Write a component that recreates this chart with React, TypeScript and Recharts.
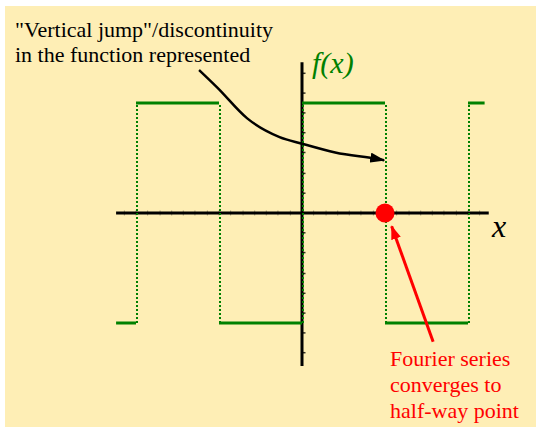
import React from "react";
import {
  ComposedChart,
  XAxis,
  YAxis,
  Line,
  Scatter,
  ReferenceLine,
  ReferenceDot,
} from "recharts";

// square wave, one horizontal piece per entry
const pieceStart = [-2.24, -2, -1, 0, 1, 2];
const pieceEnd = [-2, -1, 0, 1, 2, 2.2];
const pieceLevel = [-1, 1, -1, 1, -1, 1];

// where the function jumps (drawn dotted)
const jumpX = [-2, -1, 0, 1, 2];

// small tick marks on the two axes
const xTicks = [
  -2.14, -2, -1.86, -1.71, -1.57, -1.43, -1.29, -1.14, -1, -0.86, -0.71, -0.57,
  -0.43, -0.29, -0.14, 0.14, 0.29, 0.43, 0.57, 0.71, 0.86, 1, 1.14, 1.29, 1.43,
  1.57, 1.71, 1.86, 2, 2.14,
];
const yTicks = [
  1.27, 1.09, 0.91, 0.73, 0.55, 0.36, 0.18, -0.18, -0.36, -0.55, -0.73, -0.91,
  -1.09, -1.27,
];

// axis extents
const xAxisEnds = [-2.24, 2.25];
const yAxisEnds = [-1.39, 1.37];

// the point the series converges to
const halfWayX = 1;
const halfWayY = 0;

// black curved arrow from the caption to the jump
const noteCurveX = [-1.24, -1.02, -0.66, -0.27, 0, 0.4, 0.92, 0.99];
const noteCurveY = [1.3, 1.14, 0.86, 0.69, 0.63, 0.55, 0.49, 0.48];

// red arrow from the red text to the dot
const pointerX = [1.58, 1.08];
const pointerY = [-1.17, -0.12];

const captionLines = ['"Vertical jump"/discontinuity', "in the function represented"];
const noteLines = ["Fourier series", "converges to", "half-way point"];

const GREEN = "#008000";
const RED = "#ff0000";
const SERIF = "Liberation Serif";

const waveData = pieceStart.flatMap((s, i) => [
  { x: s, y: pieceLevel[i] },
  { x: pieceEnd[i], y: pieceLevel[i] },
  { x: pieceEnd[i], y: null },
]);
const curveData = noteCurveX.map((x, i) => ({ x, y: noteCurveY[i] }));
const pointerData = pointerX.map((x, i) => ({ x, y: pointerY[i] }));
const xTickData = xTicks.map((x) => ({ x, y: 0 }));
const yTickData = yTicks.map((y) => ({ x: 0, y }));

const XTick = (props: any) => (
  <line x1={props.cx} x2={props.cx} y1={props.cy - 2.5} y2={props.cy + 2.5} stroke="#000" strokeOpacity={0.35} strokeWidth={1} />
);
const YTick = (props: any) => (
  <line x1={props.cx + 1} x2={props.cx + 3.5} y1={props.cy} y2={props.cy} stroke="#000" strokeOpacity={0.8} strokeWidth={1.5} />
);

const label = (left: number, top: number, size: number, lh: number, color: string, italic = false): React.CSSProperties => ({
  position: "absolute",
  left,
  top,
  fontFamily: SERIF,
  fontSize: size,
  lineHeight: `${lh}px`,
  color,
  fontStyle: italic ? "italic" : "normal",
  whiteSpace: "pre",
  pointerEvents: "none",
});

export default function App() {
  return (
    <div style={{ position: "absolute", left: 0, top: 0, width: 536, height: 427, background: "#fff", fontFamily: SERIF }}>
      <div style={{ position: "absolute", left: 5, top: 6, width: 531, height: 421, background: "#feeeb5" }} />
      <div style={{ position: "absolute", left: 0, top: 0 }}>
        <ComposedChart width={536} height={427} margin={{ top: 0, right: 0, bottom: 0, left: 0 }}>
          <defs>
            <marker id="headBlack" markerWidth={15} markerHeight={10} refX={14} refY={5} orient="auto" markerUnits="userSpaceOnUse">
              <path d="M0,0 L15,5 L0,10 z" fill="#000" />
            </marker>
            <marker id="headRed" markerWidth={14} markerHeight={10} refX={13} refY={5} orient="auto" markerUnits="userSpaceOnUse">
              <path d="M0,0 L14,5 L0,10 z" fill={RED} />
            </marker>
          </defs>
          <XAxis type="number" dataKey="x" domain={[-3.6386, 2.8193]} allowDataOverflow hide />
          <YAxis type="number" dataKey="y" domain={[-1.9455, 1.9364]} allowDataOverflow hide />

          <ReferenceLine segment={[{ x: xAxisEnds[0], y: 0 }, { x: xAxisEnds[1], y: 0 }]} stroke="#000" strokeWidth={3} />
          <ReferenceLine segment={[{ x: 0, y: yAxisEnds[0] }, { x: 0, y: yAxisEnds[1] }]} stroke="#000" strokeWidth={3} />
          <Scatter data={xTickData} shape={XTick} isAnimationActive={false} />
          <Scatter data={yTickData} shape={YTick} isAnimationActive={false} />

          {jumpX.map((x) => (
            <ReferenceLine
              key={x}
              segment={[{ x: x + 0.012, y: -1 }, { x: x + 0.012, y: 1 }]}
              stroke={GREEN}
              strokeWidth={2}
              strokeDasharray="2 2"
            />
          ))}
          <Line
            data={waveData}
            dataKey="y"
            type="linear"
            stroke={GREEN}
            strokeWidth={3}
            dot={false}
            activeDot={false}
            connectNulls={false}
            isAnimationActive={false}
          />

          <ReferenceDot x={halfWayX} y={halfWayY} r={9.5} fill={RED} stroke="none" />

          <Line
            data={curveData}
            dataKey="y"
            type="monotone"
            stroke="#000"
            strokeWidth={2.5}
            dot={false}
            activeDot={false}
            markerEnd="url(#headBlack)"
            isAnimationActive={false}
          />
          <Line
            data={pointerData}
            dataKey="y"
            type="linear"
            stroke={RED}
            strokeWidth={3}
            dot={false}
            activeDot={false}
            markerEnd="url(#headRed)"
            isAnimationActive={false}
          />
        </ComposedChart>
      </div>
      <div style={label(15, 17, 22, 25, "#000")}>{captionLines.join("\n")}</div>
      <div style={label(390, 346, 22, 26, RED)}>{noteLines.join("\n")}</div>
      <div style={label(312, 46, 30, 34, GREEN, true)}>f(x)</div>
      <div style={label(492, 208, 32, 36, "#000", true)}>x</div>
    </div>
  );
}
